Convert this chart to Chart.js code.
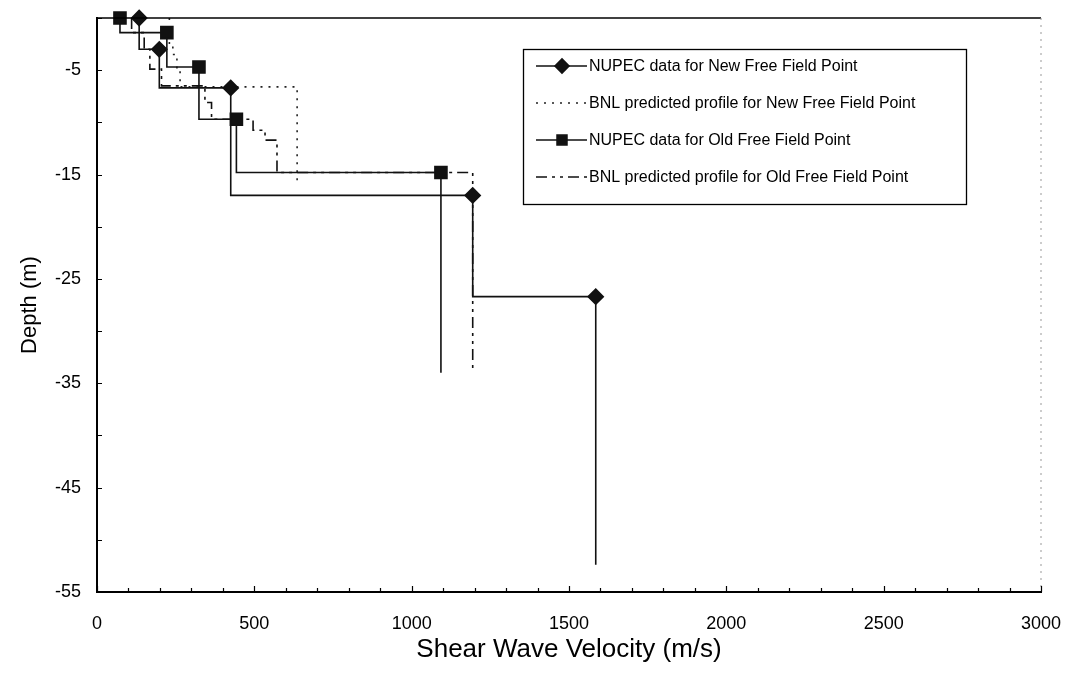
<!DOCTYPE html>
<html>
<head>
<meta charset="utf-8">
<script src="https://cdn.jsdelivr.net/npm/chart.js@4.4.1/dist/chart.umd.min.js"></script>
<style>
  html, body { margin: 0; padding: 0; background: #fff; }
  #wrap { width: 1068px; height: 674px; position: relative; }
</style>
</head>
<body>
<div id="wrap"><canvas id="chart-vs-profile"></canvas></div>
<script>
// layer velocity (m/s) and depth of layer top (m), last value = bottom of profile
const nupecNewVs = [134, 198, 425, 1194, 1585];
const nupecNewTop = [0, -3, -6.7, -17, -26.7];
const nupecNewBottom = -52.4;

const bnlNewVs = [230, 241, 254, 264, 636];
const bnlNewTop = [0, -2.5, -3.5, -5, -6.6];
const bnlNewBottom = -16;

const nupecOldVs = [73, 222, 324, 443, 1093];
const nupecOldTop = [0, -1.4, -4.7, -9.7, -14.8];
const nupecOldBottom = -34;

const bnlOldVs = [110, 150, 168, 205, 343, 364, 496, 534, 572, 1194];
const bnlOldTop = [0, -1.4, -3, -4.9, -6.5, -8.1, -9.7, -10.75, -11.7, -14.8];
const bnlOldBottom = -33.7;

const seriesNames = [
  'NUPEC data for New Free Field Point',
  'BNL predicted profile for New Free Field Point',
  'NUPEC data for Old Free Field Point',
  'BNL predicted profile for Old Free Field Point'
];

const FONT = '"Liberation Sans", Arial, sans-serif';

function stepProfile(vs, tops, bottom) {
  const pts = [];
  vs.forEach((v, i) => {
    pts.push({ x: v, y: tops[i] });
    pts.push({ x: v, y: i + 1 < tops.length ? tops[i + 1] : bottom });
  });
  return pts;
}

const markerAtTop = (r) => (ctx) => (ctx.dataIndex % 2 === 0 ? r : 0);

const datasets = [
  {
    label: seriesNames[0],
    data: stepProfile(nupecNewVs, nupecNewTop, nupecNewBottom),
    borderColor: '#111', backgroundColor: '#111', borderWidth: 1.6,
    pointStyle: 'rectRot', pointRadius: markerAtTop(7.5), pointHoverRadius: 0,
    legendMarker: true
  },
  {
    label: seriesNames[1],
    data: stepProfile(bnlNewVs, bnlNewTop, bnlNewBottom),
    borderColor: '#222', borderWidth: 1.6, borderDash: [2, 6],
    pointRadius: 0
  },
  {
    label: seriesNames[2],
    data: stepProfile(nupecOldVs, nupecOldTop, nupecOldBottom),
    borderColor: '#111', backgroundColor: '#111', borderWidth: 1.6,
    pointStyle: 'rect', pointRadius: markerAtTop(8.5), pointHoverRadius: 0,
    legendMarker: true
  },
  {
    label: seriesNames[3],
    data: stepProfile(bnlOldVs, bnlOldTop, bnlOldBottom),
    borderColor: '#111', borderWidth: 1.6, borderDash: [11, 5, 3, 5, 3, 5],
    pointRadius: 0
  }
];
// draw BNL first so the NUPEC steps sit on top
datasets.forEach((d, i) => { d.order = i % 2 === 0 ? 0 : 1; d.showLine = true; d.clip = false; });

const frameAndTicks = {
  id: 'frameAndTicks',
  afterDatasetsDraw(chart) {
    const { ctx, chartArea: a, scales } = chart;
    ctx.save();
    ctx.strokeStyle = '#000';
    ctx.lineWidth = 1.5;
    ctx.beginPath();
    ctx.moveTo(a.left, a.top); ctx.lineTo(a.right, a.top);
    ctx.stroke();
    ctx.strokeStyle = '#999';
    ctx.lineWidth = 1;
    ctx.setLineDash([2, 5]);
    ctx.beginPath();
    ctx.moveTo(a.right, a.top); ctx.lineTo(a.right, a.bottom);
    ctx.stroke();
    ctx.setLineDash([]);
    ctx.strokeStyle = '#000';
    ctx.lineWidth = 1.2;
    ctx.beginPath();
    scales.x.ticks.forEach(t => {
      const px = Math.round(scales.x.getPixelForValue(t.value)) + 0.5;
      const len = t.value % 500 === 0 ? 6 : 4;
      ctx.moveTo(px, a.bottom); ctx.lineTo(px, a.bottom - len);
    });
    scales.y.ticks.forEach(t => {
      const py = Math.round(scales.y.getPixelForValue(t.value)) + 0.5;
      ctx.moveTo(a.left, py); ctx.lineTo(a.left + 5, py);
    });
    ctx.stroke();
    ctx.restore();
  }
};

const boxLegend = {
  id: 'boxLegend',
  afterDraw(chart) {
    const { ctx } = chart;
    const left = 523, top = 49, right = 966, bottom = 204;
    const rows = [66, 103, 140, 177];
    ctx.save();
    ctx.fillStyle = '#fff';
    ctx.fillRect(left, top, right - left, bottom - top);
    ctx.strokeStyle = '#000';
    ctx.lineWidth = 1.3;
    ctx.strokeRect(left + 0.5, top + 0.5, right - left, bottom - top);
    chart.data.datasets.forEach((ds, i) => {
      const y = rows[i];
      ctx.strokeStyle = ds.borderColor;
      ctx.lineWidth = ds.borderWidth;
      ctx.setLineDash(ds.borderDash || []);
      ctx.beginPath();
      ctx.moveTo(536, y); ctx.lineTo(587, y);
      ctx.stroke();
      ctx.setLineDash([]);
      if (ds.legendMarker) {
        ctx.fillStyle = ds.backgroundColor;
        Chart.helpers.drawPoint(ctx, {
          pointStyle: ds.pointStyle, radius: 7, rotation: 0, borderWidth: 1
        }, 562, y);
      }
      ctx.fillStyle = '#000';
      ctx.font = '16px ' + FONT;
      ctx.textBaseline = 'middle';
      ctx.textAlign = 'left';
      ctx.fillText(ds.label, 589, y + 1);
    });
    ctx.restore();
  }
};

new Chart(document.getElementById('chart-vs-profile'), {
  type: 'scatter',
  data: { datasets },
  options: {
    responsive: true,
    maintainAspectRatio: false,
    animation: false,
    layout: { padding: { top: 18, right: 27, left: 0, bottom: 0 } },
    plugins: { legend: { display: false }, tooltip: { enabled: false } },
    scales: {
      x: {
        type: 'linear', min: 0, max: 3000,
        grid: { display: false, drawTicks: false },
        border: { display: true, color: '#000', width: 2 },
        ticks: {
          stepSize: 100, autoSkip: false, maxRotation: 0, padding: 21,
          color: '#000', font: { family: FONT, size: 18 },
          callback: v => (v % 500 === 0 ? String(v) : '')
        },
        title: {
          display: true, text: 'Shear Wave Velocity (m/s)', color: '#000',
          font: { family: FONT, size: 26 }, padding: { top: 0, bottom: 9 }
        },
        afterFit: s => { s.height = 82; s.paddingLeft = 0; s.paddingRight = 0; }
      },
      y: {
        type: 'linear', min: -55, max: 0,
        grid: { display: false, drawTicks: false },
        border: { display: true, color: '#000', width: 2 },
        ticks: {
          stepSize: 5, autoSkip: false, padding: 16,
          color: '#000', font: { family: FONT, size: 18 },
          callback: v => (Math.abs(v % 10) === 5 ? String(v) : '')
        },
        title: {
          display: true, text: 'Depth (m)', color: '#000',
          font: { family: FONT, size: 22 }, padding: { top: 17, bottom: 0 }
        },
        afterFit: s => { s.width = 97; s.paddingTop = 0; s.paddingBottom = 0; }
      }
    }
  },
  plugins: [frameAndTicks, boxLegend]
});
</script>
</body>
</html>
